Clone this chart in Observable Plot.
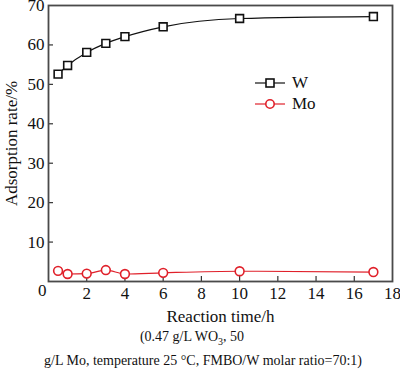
<!DOCTYPE html>
<html>
<head>
<meta charset="utf-8">
<script src="https://cdn.jsdelivr.net/npm/d3@7"></script>
<script src="https://cdn.jsdelivr.net/npm/@observablehq/plot@0.6"></script>
<style>
  body { margin: 0; background: #fff; font-family: "Liberation Serif", serif; }
  svg, svg text { font-family: "Liberation Serif", serif !important; }
  #wrap { position: relative; width: 400px; height: 374px; }
  #legend { position: absolute; left: 255px; top: 72px; font-size: 17px; color: #111; }
  #legend .row { display: flex; align-items: center; height: 21px; }
  #legend svg { margin-right: 7px; }
  #cap { font-size: 14px; color: #111; text-align: center; line-height: 24px; }
</style>
</head>
<body>
<div id="wrap">
  <div id="chart"></div>
  <div id="legend"></div>
  <div id="cap">
    <div style="padding-right:16px">(0.47 g/L WO<sub style="font-size:10px;line-height:0">3</sub>, 50</div>
    <div style="padding-left:6px">g/L Mo, temperature 25 °C, FMBO/W molar ratio=70:1)</div>
  </div>
</div>
<script>
// Data
const time = [0.5, 1, 2, 3, 4, 6, 10, 17];
const wValues = [52.6, 54.8, 58.1, 60.4, 62.1, 64.6, 66.7, 67.2];
const moValues = [2.7, 1.9, 2.0, 2.9, 1.9, 2.2, 2.6, 2.4];
const seriesNames = ["W", "Mo"];
const seriesColors = ["#111111", "#e0202a"];
const seriesSymbols = ["square", "circle"];
const xTicks = [2, 4, 6, 8, 10, 12, 14, 16, 18];
const yTicks = [10, 20, 30, 40, 50, 60, 70];

const rows = [];
time.forEach((t, i) => rows.push({series: "W", t, v: wValues[i]}));
time.forEach((t, i) => rows.push({series: "Mo", t, v: moValues[i]}));

const W = 400, H = 325, mL = 48, mR = 8, mT = 5, mB = 44;
const plotW = W - mL - mR, plotH = H - mT - mB;

const chart = Plot.plot({
  width: W, height: H,
  marginLeft: mL, marginRight: mR, marginTop: mT, marginBottom: mB,
  style: {fontFamily: '"Liberation Serif", serif', fontSize: "17px", color: "#111", background: "#fff", overflow: "visible"},
  x: {domain: [0, 18]},
  y: {domain: [0, 70]},
  color: {domain: seriesNames, range: seriesColors},
  symbol: {domain: seriesNames, range: seriesSymbols},
  marks: [
    Plot.axisX(xTicks, {tickSize: 0, tickPadding: 5, label: "Reaction time/h", labelAnchor: "center", labelOffset: 40, labelArrow: "none", fontSize: 17}),
    Plot.axisY(yTicks, {tickSize: 0, tickPadding: 4, label: "Adsorption rate/%", labelAnchor: "center", labelOffset: 44, labelArrow: "none", fontSize: 17}),
    Plot.axisY([0], {tickSize: 0, tickPadding: 2, dy: 9, label: null, fontSize: 17}),
    Plot.tickX(xTicks.slice(0, -1), {x: d => d, insetTop: plotH - 5, stroke: "#333", strokeWidth: 1.2}),
    Plot.tickY(yTicks.slice(0, -1), {y: d => d, insetRight: plotW - 5, stroke: "#333", strokeWidth: 1.2}),
    Plot.line(rows, {x: "t", y: "v", z: "series", stroke: "series", strokeWidth: 1.2, curve: "monotone-x"}),
    Plot.dot(rows, {x: "t", y: "v", stroke: "series", symbol: "series", fill: "white", r: 4.4, strokeWidth: 1.6}),
    Plot.frame({stroke: "#4a4a4a", strokeWidth: 1.8})
  ]
});
document.getElementById("chart").appendChild(chart);

// Legend built from series arrays
const leg = document.getElementById("legend");
seriesNames.forEach((name, i) => {
  const row = document.createElement("div");
  row.className = "row";
  const sym = seriesSymbols[i] === "square"
    ? `<rect x="11" y="6" width="8" height="8" fill="white" stroke="${seriesColors[i]}" stroke-width="1.6"/>`
    : `<circle cx="15" cy="10" r="4.2" fill="white" stroke="${seriesColors[i]}" stroke-width="1.6"/>`;
  row.innerHTML = `<svg width="30" height="20"><line x1="0" x2="30" y1="10" y2="10" stroke="${seriesColors[i]}" stroke-width="1.2"/>${sym}</svg><span>${name}</span>`;
  leg.appendChild(row);
});
</script>
</body>
</html>
